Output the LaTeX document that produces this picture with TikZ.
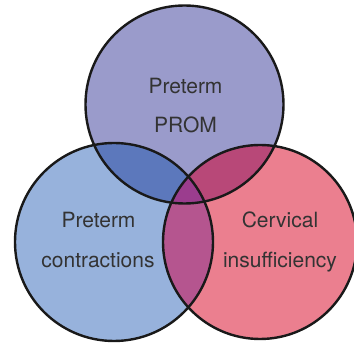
\documentclass[tikz,border=0pt]{standalone}
\usepackage{fontspec}
\setmainfont{TeX Gyre Heros}
\definecolor{cTop}{HTML}{9A9BCB}
\definecolor{cLeft}{HTML}{97B2DC}
\definecolor{cRight}{HTML}{EB7F8F}
\definecolor{cTL}{HTML}{5C78BC}
\definecolor{cTR}{HTML}{B84878}
\definecolor{cLR}{HTML}{B5558F}
\definecolor{cAll}{HTML}{9B3D8E}
\definecolor{txt}{HTML}{333333}
\tikzset{
  lbl/.style={anchor=base, text=txt, font=\fontsize{21}{24}\selectfont, inner sep=0pt},
  ring/.style={draw=black!90, line width=2.4pt}
}
\begin{document}
\begin{tikzpicture}[x=1pt,y=-1pt]
\useasboundingbox (0,0) rectangle (354,344);
\def\topc{(184.5,104.5) circle (99)}
\def\leftc{(114,242) circle (99)}
\def\rightc{(260,242) circle (97)}
\fill[cTop] \topc;
\fill[cLeft] \leftc;
\fill[cRight] \rightc;
\begin{scope}
  \clip \topc;
  \fill[cTL] \leftc;
  \fill[cTR] \rightc;
\end{scope}
\begin{scope}
  \clip \leftc;
  \fill[cLR] \rightc;
  \clip \rightc;
  \fill[cAll] \topc;
\end{scope}
\draw[ring] \topc;
\draw[ring] \leftc;
\draw[ring] \rightc;
\node[lbl] (t1) at (185.5,94) {Preterm};
\node[lbl] (t2) at (185.5,133) {PROM};
\node[lbl] (l1) at (98.5,228) {Preterm};
\node[lbl] (l2) at (98,268) {contractions};
\node[lbl] (r1) at (280,228) {Cervical};
\node[lbl] (r2) at (280,268) {insufficiency};
\end{tikzpicture}
\end{document}
